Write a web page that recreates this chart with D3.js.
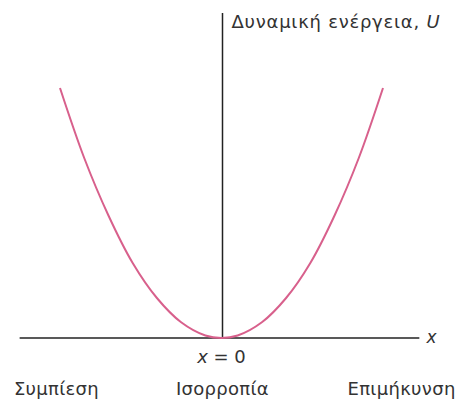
<!DOCTYPE html>
<html>
<head>
<meta charset="utf-8">
<script src="https://cdn.jsdelivr.net/npm/d3@7"></script>
<style>
  body { margin: 0; background: #fff; }
  text { font-family: "DejaVu Sans", sans-serif; fill: #333; }
</style>
</head>
<body>
<div id="chart"></div>
<script>
// points (x position, potential energy U)
var xValues = [-1, -0.85, -0.7, -0.55, -0.4, -0.25, -0.1, 0, 0.1, 0.25, 0.4, 0.55, 0.7, 0.85, 1];
var uValues = [1, 0.72, 0.49, 0.3, 0.16, 0.063, 0.01, 0, 0.01, 0.063, 0.16, 0.3, 0.49, 0.72, 1];
var bottomLabels = ["Συμπίεση", "Ισορροπία", "Επιμήκυνση"];
var bottomLabelX = [-1.022, 0.006, 1.115];

var width = 466, height = 405;

var svg = d3.select("#chart")
  .append("svg")
  .attr("width", width)
  .attr("height", height);

// scales
var x = d3.scaleLinear().domain([-1, 1]).range([60, 383]);
var y = d3.scaleLinear().domain([0, 1]).range([338, 88]);

// horizontal axis
svg.append("line")
  .attr("x1", x(-1.25)).attr("x2", x(1.225))
  .attr("y1", y(0)).attr("y2", y(0))
  .style("stroke", "#222")
  .style("stroke-width", 1.5);

svg.append("text")
  .attr("x", x(1.27))
  .attr("y", y(0) + 5)
  .attr("font-size", 17)
  .attr("font-style", "italic")
  .text("x");

// vertical axis
svg.append("line")
  .attr("x1", x(0) + 1).attr("x2", x(0) + 1)
  .attr("y1", 13).attr("y2", y(0))
  .style("stroke", "#222")
  .style("stroke-width", 1.5);

var title = svg.append("text")
  .attr("x", x(0) + 10)
  .attr("y", 28)
  .attr("font-size", 18)
  .attr("letter-spacing", 0.75);
title.append("tspan").text("Δυναμική ενέργεια, ");
title.append("tspan").attr("font-style", "italic").text("U");

// the curve
var pts = xValues.map(function (d, i) { return [d, uValues[i]]; });
var line = d3.line()
  .x(function (d) { return x(d[0]); })
  .y(function (d) { return y(d[1]); })
  .curve(d3.curveCatmullRom);

svg.append("path")
  .datum(pts)
  .attr("d", line)
  .style("fill", "none")
  .style("stroke", "#d8608c")
  .style("stroke-width", 2);

// x = 0 label
var zero = svg.append("text")
  .attr("x", x(0))
  .attr("y", 363)
  .attr("text-anchor", "middle")
  .attr("font-size", 18);
zero.append("tspan").attr("font-style", "italic").text("x");
zero.append("tspan").text(" = 0");

// bottom labels
svg.selectAll(".blabel")
  .data(bottomLabels)
  .enter()
  .append("text")
  .attr("class", "blabel")
  .attr("x", function (d, i) { return x(bottomLabelX[i]); })
  .attr("y", 395)
  .attr("text-anchor", "middle")
  .attr("font-size", 18)
  .attr("letter-spacing", 0.3)
  .text(function (d) { return d; });
</script>
</body>
</html>
